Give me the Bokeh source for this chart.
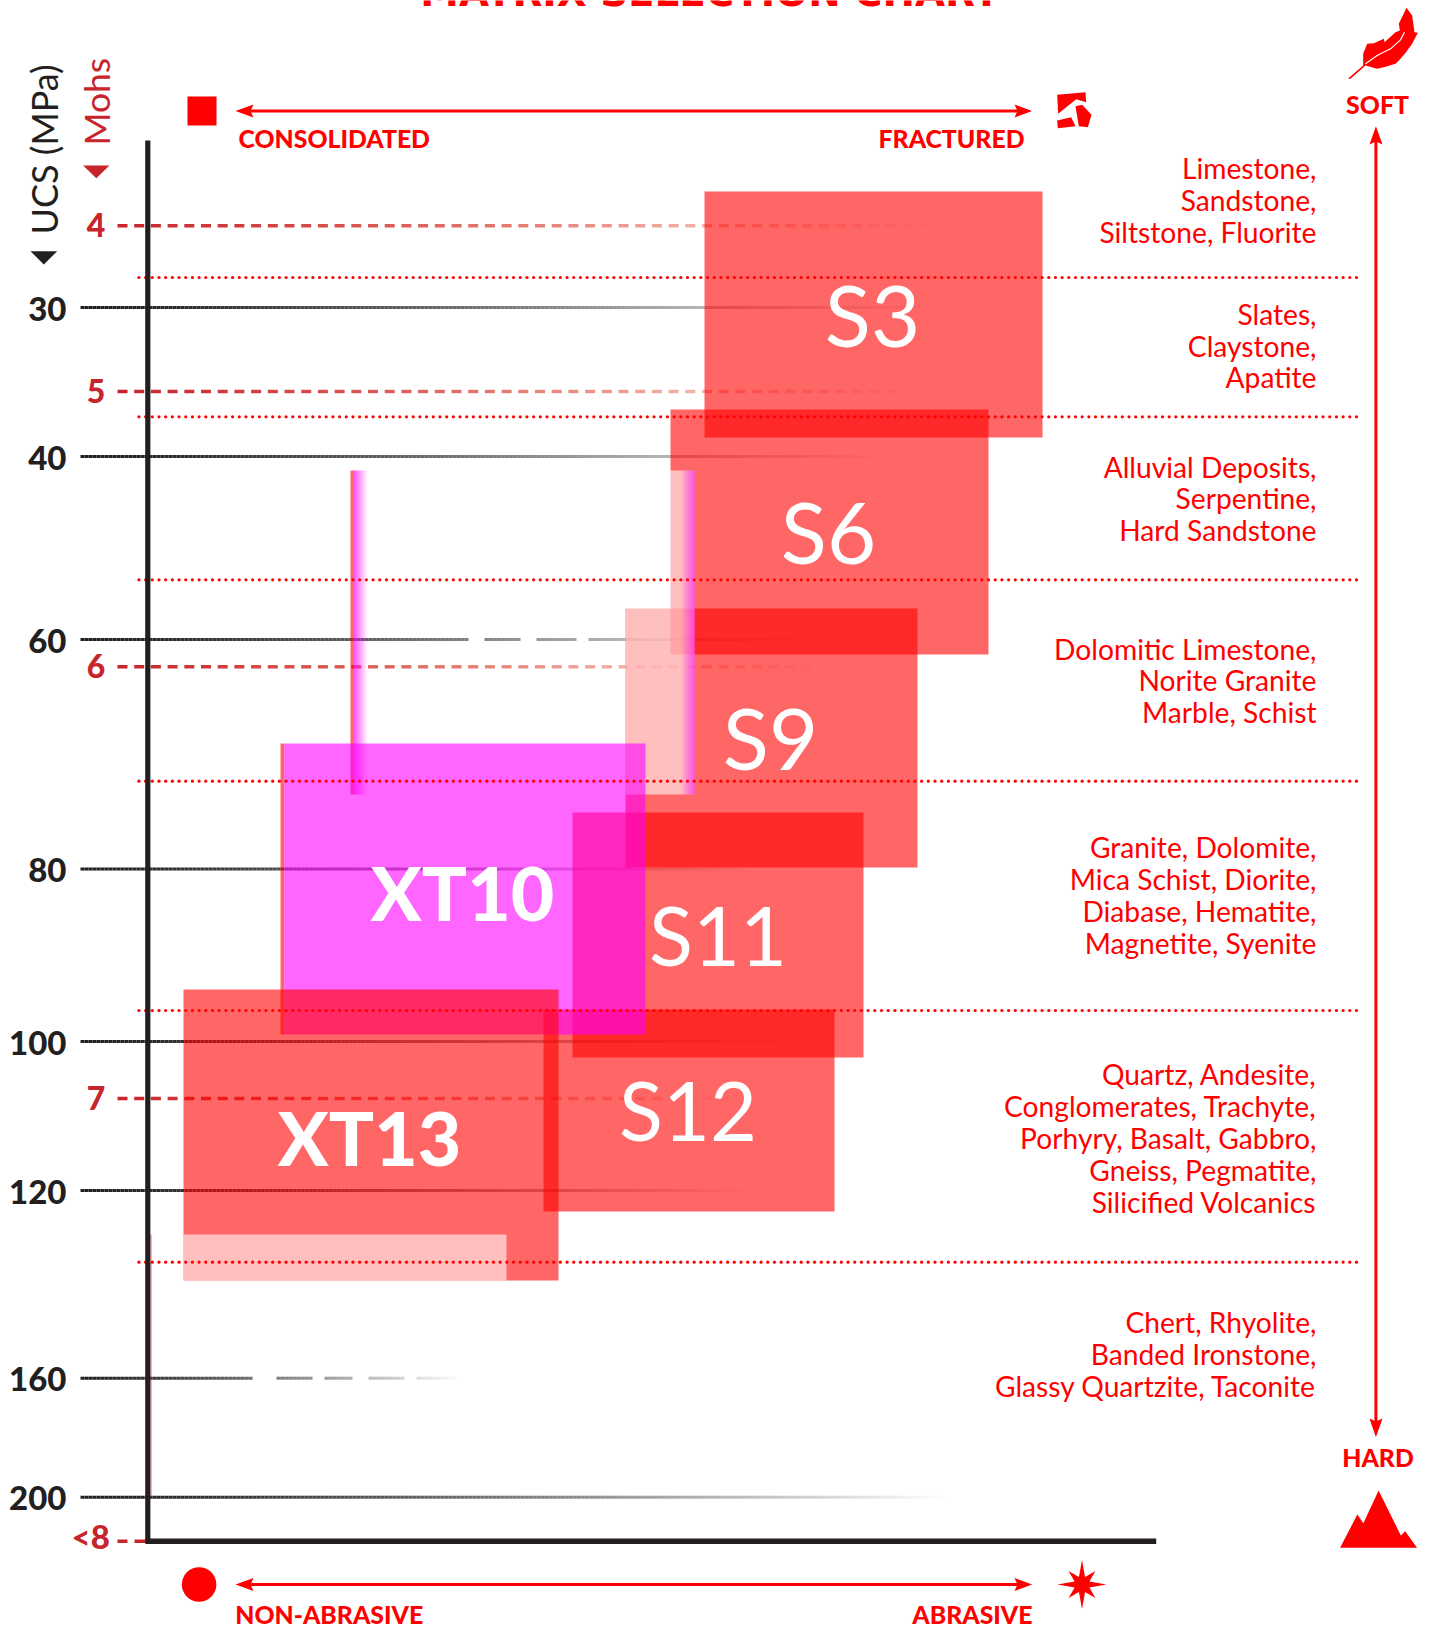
import math
import numpy as np
from bokeh.plotting import figure
from bokeh.models import Range1d
from bokeh.core.properties import value
from bokeh.embed import file_html
from bokeh.resources import INLINE

W, H = 1429, 1631
RED = "#ff0000"
DARK = "#231f20"
MOHS_RED = "#c8242c"

# ---- data (chart units) ----
box_names = ["S3", "S6", "S9", "S11", "S12", "XT10", "XT13"]
box_left = [704, 670, 625, 572, 543, 283.7, 183]
box_right = [1042, 988, 917, 863, 834, 645, 558]
box_top = [191, 409, 608, 812, 1009, 743, 989]
box_bottom = [437, 654, 867, 1057, 1211, 1034, 1280]
label_x = [872, 828, 770, 717.5, 687.5, 462, 369]
label_y = [345, 562, 768, 964, 1139, 919, 1164.5]

ucs_labels = ["30", "40", "60", "80", "100", "120", "160", "200"]
ucs_y = [307, 456, 639, 868.5, 1041, 1190, 1377.7, 1496.7]
ucs_fade_end = [932, 886, 820, 750, 790, 750, 460, 946]
ucs_gaps = [[], [], [(465, 484), (520, 534), (575, 588)], [], [], [],
            [(249, 276), (309, 324), (351, 365), (401, 416)], []]

mohs_labels = ["4", "5", "6", "7"]
mohs_y = [225.3, 391, 666.3, 1098]
mohs_fade_end = [936, 925, 835, 730]

rock_ends = [277, 416.3, 579.3, 780.7, 1010, 1261.7]
rock_lists = [
    ["Limestone,", "Sandstone,", "Siltstone, Fluorite"],
    ["Slates,", "Claystone,", "Apatite"],
    ["Alluvial Deposits,", "Serpentine,", "Hard Sandstone"],
    ["Dolomitic Limestone,", "Norite Granite", "Marble, Schist"],
    ["Granite, Dolomite,", "Mica Schist, Diorite,", "Diabase, Hematite,", "Magnetite, Syenite"],
    ["Quartz, Andesite,", "Conglomerates, Trachyte,", "Porhyry, Basalt, Gabbro,", "Gneiss, Pegmatite,", "Silicified Volcanics"],
    ["Chert, Rhyolite,", "Banded Ironstone,", "Glassy Quartzite, Taconite"],
]
rock_first_baseline = [178, 323.6, 476.5, 658.5, 857, 1084, 1332.4]
ROCK_STEP = 31.9

p = figure(width=W, height=H, x_range=Range1d(0, W), y_range=Range1d(H, 0),
           output_backend="svg", toolbar_location=None, min_border=0,
           outline_line_color=None, background_fill_color="white", border_fill_color="white")
p.axis.visible = False
p.grid.visible = False

BASE = 0.37


def text(xs, ys, ts, size, color=RED, font="Lato", style="normal", align="left", angle=0):
    xs, ys = np.array(xs, float), np.array(ys, float)
    if angle:
        xs = xs - BASE * size
    else:
        ys = ys - BASE * size
    p.text(x=xs, y=ys, text=ts, text_font=value(font), text_font_size=f"{size}px",
           text_font_style=style, text_color=color, text_align=align,
           text_baseline="alphabetic", angle=angle)


def grad_line(y, x0, x1, gaps):
    xs = np.arange(x0, x1, 4)
    t = (xs - x0) / (x1 - x0)
    keep = [not any(a <= x < b for a, b in gaps) for x in xs]
    xs, t = xs[keep], t[keep]
    p.segment(x0=xs, x1=xs + 4, y0=[y] * len(xs), y1=[y] * len(xs), line_color=DARK,
              line_width=3, line_alpha=list(np.clip(1 - t ** 1.3, 0, 1)))


def dash_line(y, x0, x1):
    xs = np.arange(x0, x1, 16.7)
    t = (xs - x0) / (x1 - x0)
    ks = t ** 0.7
    cols = ["#%02x%02x%02x" % (int(200 + 35 * k), int(35 + 85 * k), int(45 + 45 * k)) for k in ks]
    p.segment(x0=xs, x1=xs + 10, y0=[y] * len(xs), y1=[y] * len(xs), line_color=cols,
              line_width=3.4, line_alpha=list(1 - t ** 2))


for y, e, g in zip(ucs_y, ucs_fade_end, ucs_gaps):
    grad_line(y, 80, e, g)
for y, e in zip(mohs_y, mohs_fade_end):
    dash_line(y, 117, e)
p.segment(x0=[117, 134], x1=[127, 145], y0=[1540.7] * 2, y1=[1540.7] * 2,
          line_color=MOHS_RED, line_width=3.4)

# red boxes S3..S12
p.quad(left=box_left[:5], right=box_right[:5], top=box_top[:5], bottom=box_bottom[:5],
       fill_color=RED, fill_alpha=0.6, line_color=None)

# washed band and its fading edges
p.quad(left=[625], right=[694], top=[470], bottom=[794], fill_color="white", fill_alpha=0.58, line_color=None)
xs = np.arange(680, 694)
p.quad(left=xs, right=xs + 1, top=[470] * len(xs), bottom=[794] * len(xs), fill_color="#ff00ff",
       fill_alpha=list(np.linspace(0, 0.65, len(xs))), line_color=None)
p.quad(left=[350], right=[353.6], top=[470], bottom=[794], fill_color=RED, fill_alpha=0.6, line_color=None)
xs = np.arange(353.6, 367, 1.0)
p.quad(left=xs, right=xs + 1, top=[470] * len(xs), bottom=[794] * len(xs), fill_color="#ff00ff",
       fill_alpha=list(np.linspace(0.7, 0, len(xs))), line_color=None)

# XT10 then XT13
p.quad(left=[280], right=[283.7], top=[box_top[5]], bottom=[box_bottom[5]], fill_color=RED, fill_alpha=0.6, line_color=None)
p.quad(left=[box_left[5]], right=[box_right[5]], top=[box_top[5]], bottom=[box_bottom[5]],
       fill_color="#ff00ff", fill_alpha=0.6, line_color=None)
p.quad(left=[box_left[6]], right=[box_right[6]], top=[box_top[6]], bottom=[box_bottom[6]],
       fill_color=RED, fill_alpha=0.6, line_color=None)
p.quad(left=[183], right=[506], top=[1234], bottom=[1280], fill_color="white", fill_alpha=0.58, line_color=None)
p.quad(left=[150], right=[151], top=[1234], bottom=[1497], fill_color=RED, fill_alpha=0.6, line_color=None)

# dotted rock-class lines
dot_x = np.arange(138.4, 1357, 6.69)
for y in rock_ends:
    p.scatter(x=dot_x, y=[y] * len(dot_x), marker="circle", size=3.2, fill_color=RED, line_color=None)

# axes
p.line(x=[147.3, 147.3], y=[140, 1543], line_color=DARK, line_width=5.2)
p.line(x=[145, 1155.7], y=[1540.7, 1540.7], line_color=DARK, line_width=5.4)

# arrows
def arrow_h(y):
    p.line(x=[240, 1027], y=[y, y], line_color=RED, line_width=3)
    p.patch(x=[235, 253, 250, 253], y=[y, y - 6.5, y, y + 6.5], fill_color=RED, line_color=None)
    p.patch(x=[1031.6, 1014, 1017, 1014], y=[y, y - 6.5, y, y + 6.5], fill_color=RED, line_color=None)

arrow_h(110.5)
arrow_h(1584)
p.line(x=[1375.4, 1375.4], y=[132, 1431], line_color=RED, line_width=3)
p.patch(x=[1375.4, 1369, 1375.4, 1382], y=[125.7, 144, 141, 144], fill_color=RED, line_color=None)
p.patch(x=[1375.4, 1369, 1375.4, 1382], y=[1436.7, 1418, 1421, 1418], fill_color=RED, line_color=None)

# icons
p.quad(left=[187], right=[216], top=[96], bottom=[125], fill_color=RED, line_color=None)
p.circle(x=[198.6], y=[1584], radius=17.3, fill_color=RED, line_color=None)

n = 16
radii = [24.5, 8, 19, 8] * 4
ang = np.arange(n) * 2 * math.pi / n
p.patch(x=1081.5 + np.array(radii) * np.sin(ang), y=1584 - np.array(radii) * np.cos(ang), fill_color=RED, line_color=None)

mx = np.array([1303, 1354, 1372, 1417, 1483, 1496, 1531]) / 2.964 + 900
my = np.array([742, 642, 668, 570, 705, 692, 742]) / 3 + 1300
p.patch(x=mx, y=my, fill_color=RED, line_color=None)

fx = np.array([22, 68, 68, 80, 100, 130, 132, 165, 178, 175, 198, 215, 222, 232, 215, 193, 175, 165, 130, 110, 75, 30]) / 3 + 1340
fy = np.array([235, 195, 160, 130, 128, 115, 125, 95, 90, 70, 22, 45, 95, 97, 130, 160, 180, 190, 200, 205, 195, 235]) / 3
p.patch(x=fx, y=fy, fill_color=RED, line_color=None)
vx = np.array([75, 110, 150, 180, 192]) / 3 + 1340
vy = np.array([190, 165, 145, 118, 95]) / 3
p.line(x=vx, y=vy, line_color="white", line_width=1.2)

for px_, py_ in [([50, 135, 137, 107, 53], [28, 20, 50, 41, 85]),
                 ([105, 125, 153, 142, 115], [62, 58, 88, 125, 122]),
                 ([50, 92, 105, 52], [105, 95, 122, 128])]:
    p.patch(x=np.array(px_) / 3 + 1040, y=np.array(py_) / 3 + 85, fill_color=RED, line_color=None)

# triangles
p.patch(x=[30, 56.7, 43.3], y=[250.7, 250.7, 264], fill_color=DARK, line_color=None)
p.patch(x=[82.6, 109, 95.8], y=[165, 165, 177.7], fill_color=MOHS_RED, line_color=None)

# texts
BLACK = "Lato Black"
text([709.5], [6.5], ["MATRIX SELECTION CHART"], 38.8, font="DejaVu Sans", style="bold", align="center")
text([57], [234], ["UCS (MPa)"], 36, color=DARK, angle=math.pi / 2)
text([109], [145], ["Mohs"], 35.5, color=MOHS_RED, angle=math.pi / 2)
text([66] * len(ucs_labels), [y + 13.5 for y in ucs_y], ucs_labels, 33, color=DARK, font=BLACK, style="bold", align="right")
text([95.5] * len(mohs_labels), [y + 11 for y in mohs_y], mohs_labels, 32, color=MOHS_RED, font=BLACK, style="bold", align="center")
text([109.4], [1548], ["<8"], 33, color=MOHS_RED, font=BLACK, style="bold", align="right")

text([238], [146.7], ["CONSOLIDATED"], 24.8, font=BLACK, style="bold")
text([1024], [146.7], ["FRACTURED"], 24.8, font=BLACK, style="bold", align="right")
text([234.7], [1623], ["NON-ABRASIVE"], 24.8, font=BLACK, style="bold")
text([1032], [1623], ["ABRASIVE"], 24.8, font=BLACK, style="bold", align="right")
text([1377], [113], ["SOFT"], 24.8, font=BLACK, style="bold", align="center")
text([1377.5], [1466], ["HARD"], 24.8, font=BLACK, style="bold", align="center")

for lines, b in zip(rock_lists, rock_first_baseline):
    text([1316] * len(lines), [b + i * ROCK_STEP for i in range(len(lines))], lines, 28.2, align="right")

text(label_x[:3], label_y[:3], box_names[:3], 85, color="white", align="center")
text(label_x[3:5], label_y[3:5], box_names[3:5], 81, color="white", align="center")
text(label_x[5:], label_y[5:], box_names[5:], 75, color="white", font=BLACK, style="bold", align="center")

open("out.html", "w").write(file_html(p, INLINE))
